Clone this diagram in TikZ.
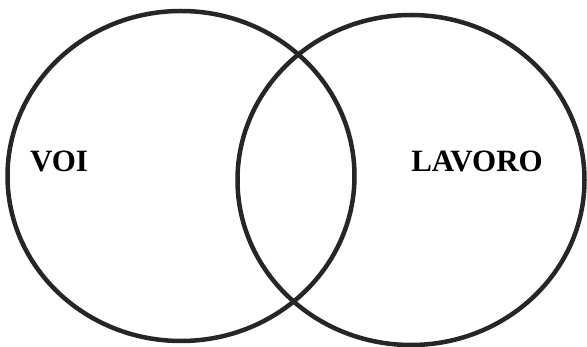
\documentclass[tikz,border=0pt]{standalone}
\usepackage{fontspec}
\setmainfont{Liberation Serif}
\usetikzlibrary{shapes.geometric,positioning}
\definecolor{ringGray}{HTML}{262626}

\begin{document}
\begin{tikzpicture}[
    x=1pt, y=1pt,
    ring/.style={ellipse, draw=ringGray, line width=4.5pt,
                 minimum width=347pt, minimum height=330pt, inner sep=0pt},
    setlabel/.style={font=\fontsize{31}{31}\selectfont\bfseries, text=black},
]
    \useasboundingbox (0,0) rectangle (587,-347);
    \node[ring] (voiset) at (181,-176) {};
    \node[ring] (lavoroset) at (411,-180) {};
    \node[setlabel] (voi) at (59,-161) {VOI};
    \node[setlabel] (lavoro) at (477,-161) {LAVORO};
\end{tikzpicture}
\end{document}
